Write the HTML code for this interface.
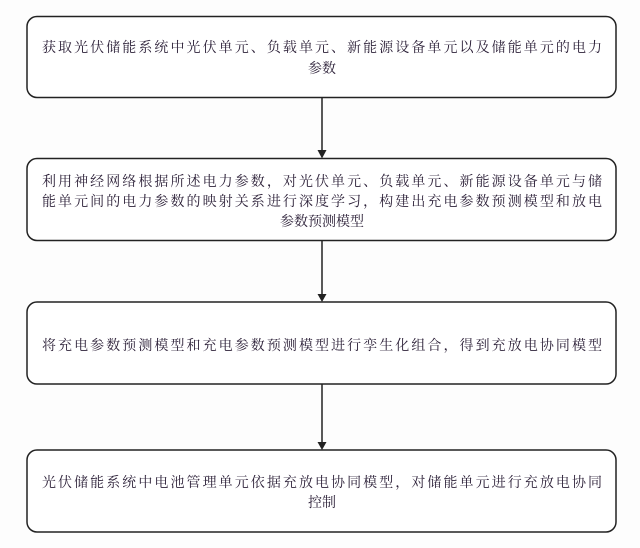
<!DOCTYPE html>
<html><head><meta charset="utf-8"><style>
html,body{margin:0;padding:0;background:#fdfdfd;}
svg{display:block}
text{font-family:"Liberation Serif","Noto Serif CJK SC","Noto Sans CJK SC",serif;font-size:14px;fill:#2a1e36;}
</style></head><body>
<svg width="640" height="548" viewBox="0 0 640 548" xmlns="http://www.w3.org/2000/svg">
<rect x="0" y="0" width="640" height="548" fill="#fdfdfd"/>
<g fill="#fff" stroke="#222" stroke-width="1.5">
<rect x="27" y="16.5" width="589" height="81" rx="10"/>
<rect x="27" y="158.5" width="589" height="82" rx="10"/>
<rect x="27" y="302" width="589" height="82" rx="10"/>
<rect x="27" y="450" width="589" height="82" rx="10"/>
</g>
<g stroke="#222" stroke-width="1.5">
<line x1="322" y1="97.5" x2="322" y2="150"/>
<line x1="322" y1="240.5" x2="322" y2="294"/>
<line x1="322" y1="384" x2="322" y2="442"/>
</g>
<g fill="#222">
<polygon points="317.5,150 326.5,150 322,158.5"/>
<polygon points="317.5,294 326.5,294 322,302"/>
<polygon points="317.5,442 326.5,442 322,450"/>
</g>
<text x="42" y="52" textLength="560">获取光伏储能系统中光伏单元、负载单元、新能源设备单元以及储能单元的电力</text>
<text x="322" y="73" text-anchor="middle">参数</text>
<text x="42" y="186" textLength="560">利用神经网络根据所述电力参数，对光伏单元、负载单元、新能源设备单元与储</text>
<text x="42" y="206" textLength="560">能单元间的电力参数的映射关系进行深度学习，构建出充电参数预测模型和放电</text>
<text x="322" y="226" text-anchor="middle">参数预测模型</text>
<text x="42" y="350" textLength="560">将充电参数预测模型和充电参数预测模型进行孪生化组合，得到充放电协同模型</text>
<text x="42" y="487" textLength="560">光伏储能系统中电池管理单元依据充放电协同模型，对储能单元进行充放电协同</text>
<text x="322" y="507" text-anchor="middle">控制</text>
</svg>
</body></html>
